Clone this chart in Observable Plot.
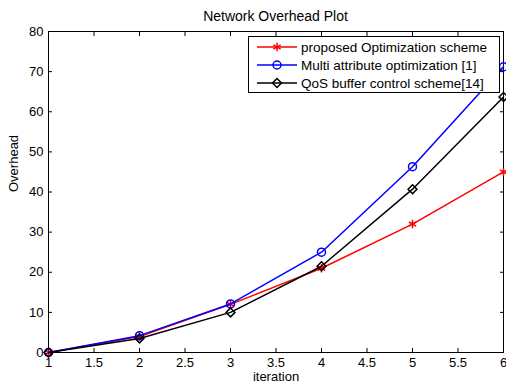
<!DOCTYPE html>
<html><head><meta charset="utf-8">
<script src="https://cdn.jsdelivr.net/npm/d3@7"></script>
<script src="https://cdn.jsdelivr.net/npm/@observablehq/plot@0.6"></script>
<style>
body{margin:0;background:#fff;font-family:"Liberation Sans",Arial,sans-serif;}
#wrap{position:relative;width:506px;height:385px;}
#title{height:20px;width:455px;padding-left:48px;text-align:center;font-size:14px;line-height:33px;color:#000;white-space:nowrap;}
#legend{position:absolute;left:248px;top:36px;width:250px;height:55px;border:1px solid #000;background:#fff;}
.row{position:absolute;left:0;height:18px;display:flex;align-items:center;font-size:13.5px;color:#000;white-space:nowrap;}
.row svg{display:block;margin-left:8px;margin-right:4px;}
#chart svg{background:transparent;}
</style></head>
<body>
<div id="wrap"><div id="title"></div><div id="chart"></div><div id="legend"></div></div>
<script>
const title = "Network Overhead Plot";
const xLabel = "iteration";
const yLabel = "Overhead";
const iterations = [1, 2, 3, 4, 5, 6];
const seriesNames = ["proposed Optimization scheme", "Multi attribute optimization [1]", "QoS buffer control scheme[14]"];
const seriesColors = ["#ff0000", "#0000ff", "#000000"];
const seriesSymbols = ["asterisk", "circle", "diamond2"];
const proposed = [0, 4, 12, 21, 32, 45];
const multiAttr = [0, 4.2, 12.1, 25, 46.3, 71.2];
const qosBuffer = [0, 3.5, 10, 21.5, 40.7, 63.7];
const xTicks = [1, 1.5, 2, 2.5, 3, 3.5, 4, 4.5, 5, 5.5, 6];
const yTicks = [0, 10, 20, 30, 40, 50, 60, 70, 80];

document.getElementById("title").textContent = title;

const allSeries = [proposed, multiAttr, qosBuffer];
const data = allSeries.flatMap((vals, s) => vals.map((v, i) => ({x: iterations[i], y: v, s})));

const marks = [
  Plot.frame({stroke: "#000", strokeWidth: 1}),
  Plot.axisX({ticks: xTicks, tickSize: -4, tickPadding: 9, label: null, fontSize: 13, tickFormat: d => String(d)}),
  Plot.axisX({anchor: "top", ticks: xTicks, tickSize: -4, tickFormat: () => "", label: null}),
  Plot.axisY({ticks: yTicks, tickSize: -4, tickPadding: 9, label: null, fontSize: 13, tickFormat: d => String(d)}),
  Plot.axisY({anchor: "right", ticks: yTicks, tickSize: -4, tickFormat: () => "", label: null}),
  Plot.text([xLabel], {frameAnchor: "bottom", dy: 24, fontSize: 13, lineAnchor: "middle"}),
  Plot.text([yLabel], {frameAnchor: "left", dx: -35, rotate: -90, fontSize: 13})
];
allSeries.forEach((vals, s) => {
  const d = data.filter(p => p.s === s);
  marks.push(Plot.line(d, {x: "x", y: "y", stroke: seriesColors[s], strokeWidth: 1.5}));
  marks.push(Plot.dot(d, {x: "x", y: "y", stroke: seriesColors[s], symbol: () => seriesSymbols[s], r: 4, strokeWidth: 1.5, fill: "none"}));
});

const chart = Plot.plot({
  width: 506, height: 365,
  marginLeft: 48, marginRight: 3, marginTop: 11, marginBottom: 33,
  style: {fontFamily: "Liberation Sans, Arial, sans-serif", fontSize: "13px", color: "#000", background: "transparent", overflow: "visible"},
  x: {domain: [1, 6]},
  y: {domain: [0, 80]},
  marks
});
document.getElementById("chart").appendChild(chart);

const symMap = {asterisk: d3.symbolAsterisk, circle: d3.symbolCircle, diamond2: d3.symbolDiamond2};
const legend = document.getElementById("legend");
seriesNames.forEach((name, i) => {
  const row = document.createElement("div");
  row.className = "row";
  row.style.top = (1 + i * 18) + "px";
  const svg = d3.create("svg").attr("width", 40).attr("height", 18);
  svg.append("line").attr("x1", 0).attr("x2", 40).attr("y1", 9).attr("y2", 9)
    .attr("stroke", seriesColors[i]).attr("stroke-width", 1.5);
  svg.append("path").attr("transform", "translate(20,9)")
    .attr("d", d3.symbol(symMap[seriesSymbols[i]], Math.PI * 16)())
    .attr("fill", "none").attr("stroke", seriesColors[i]).attr("stroke-width", 1.5);
  row.appendChild(svg.node());
  const span = document.createElement("span");
  span.textContent = name;
  row.appendChild(span);
  legend.appendChild(row);
});
</script>
</body></html>
